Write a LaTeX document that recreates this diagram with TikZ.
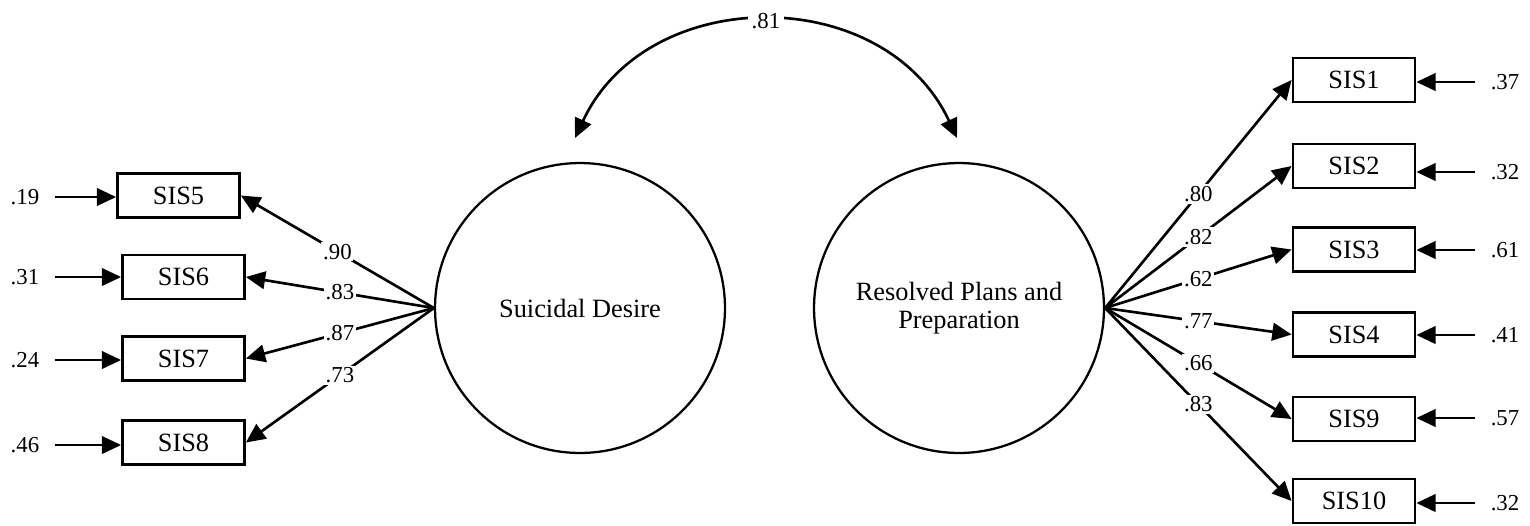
\documentclass[tikz,border=0pt]{standalone}
\usepackage{fontspec}
\setmainfont{Liberation Serif}
\usetikzlibrary{arrows.meta}

\begin{document}
\begin{tikzpicture}
[
    x=0.02cm, y=-0.02cm,
    item/.style={draw, line width=1.6pt, minimum width=2.44cm, minimum height=0.88cm, font=\fontsize{15}{16}\selectfont},
    factor/.style={draw, circle, line width=1.3pt, minimum size=5.8cm, align=center, font=\fontsize{15}{16}\selectfont},
    num/.style={font=\fontsize{13}{15}\selectfont, inner sep=1pt},
    coef/.style={num, fill=white, pos=0.5},
    arr/.style={line width=1.5pt, -{Triangle[length=11pt, width=10pt]}},
]
\useasboundingbox (0,0) rectangle (1530,525);

% latent factors
\node [factor] (desire) at (580,308) {Suicidal Desire};
\node [factor] (plans) at (959,308) {Resolved Plans and\\Preparation};

% left indicators
\node [item] (sis5) at (178.5,195.5) {SIS5};
\node [item] (sis6) at (183.5,277) {SIS6};
\node [item] (sis7) at (183.5,358.5) {SIS7};
\node [item] (sis8) at (183.5,442.5) {SIS8};

% right indicators
\node [item] (sis1) at (1354,80) {SIS1};
\node [item] (sis2) at (1354,166) {SIS2};
\node [item] (sis3) at (1354,249.5) {SIS3};
\node [item] (sis4) at (1354,334.5) {SIS4};
\node [item] (sis9) at (1354,419) {SIS9};
\node [item] (sis10) at (1354,501) {SIS10};

% error terms
\node [num] (e5) at (25,197) {.19};
\node [num] (e6) at (25,277) {.31};
\node [num] (e7) at (25,360) {.24};
\node [num] (e8) at (25,445) {.46};
\node [num] (e1) at (1505,82) {.37};
\node [num] (e2) at (1505,172) {.32};
\node [num] (e3) at (1505,250) {.61};
\node [num] (e4) at (1505,335) {.41};
\node [num] (e9) at (1505,418) {.57};
\node [num] (e10) at (1505,503) {.32};

\draw [arr, shorten <=8pt] (e5.east) -- (e5.east -| sis5.west);
\draw [arr, shorten <=8pt] (e6.east) -- (e6.east -| sis6.west);
\draw [arr, shorten <=8pt] (e7.east) -- (e7.east -| sis7.west);
\draw [arr, shorten <=8pt] (e8.east) -- (e8.east -| sis8.west);
\draw [arr, shorten <=8pt] (e1.west) -- (e1.west -| sis1.east);
\draw [arr, shorten <=8pt] (e2.west) -- (e2.west -| sis2.east);
\draw [arr, shorten <=8pt] (e3.west) -- (e3.west -| sis3.east);
\draw [arr, shorten <=8pt] (e4.west) -- (e4.west -| sis4.east);
\draw [arr, shorten <=8pt] (e9.west) -- (e9.west -| sis9.east);
\draw [arr, shorten <=8pt] (e10.west) -- (e10.west -| sis10.east);

% loadings
\draw [arr] (desire.west) -- node[coef] {.90} (sis5.east);
\draw [arr] (desire.west) -- node[coef] {.83} (sis6.east);
\draw [arr] (desire.west) -- node[coef] {.87} (sis7.east);
\draw [arr] (desire.west) -- node[coef] {.73} (sis8.east);
\draw [arr] (plans.east) -- node[coef] {.80} (sis1.west);
\draw [arr] (plans.east) -- node[coef] {.82} (sis2.west);
\draw [arr] (plans.east) -- node[coef] {.62} (sis3.west);
\draw [arr] (plans.east) -- node[coef] {.77} (sis4.west);
\draw [arr] (plans.east) -- node[coef] {.66} (sis9.west);
\draw [arr] (plans.east) -- node[coef] {.83} (sis10.west);

% correlation
\coordinate (ca) at (575,138);
\coordinate (cb) at (957,138);
\draw [arr, {Triangle[length=11pt, width=10pt]}-{Triangle[length=11pt, width=10pt]}]
    (ca) to[out=65, in=115, looseness=1.15] node[num, fill=white, inner sep=2pt] {.81} (cb);
\end{tikzpicture}
\end{document}
